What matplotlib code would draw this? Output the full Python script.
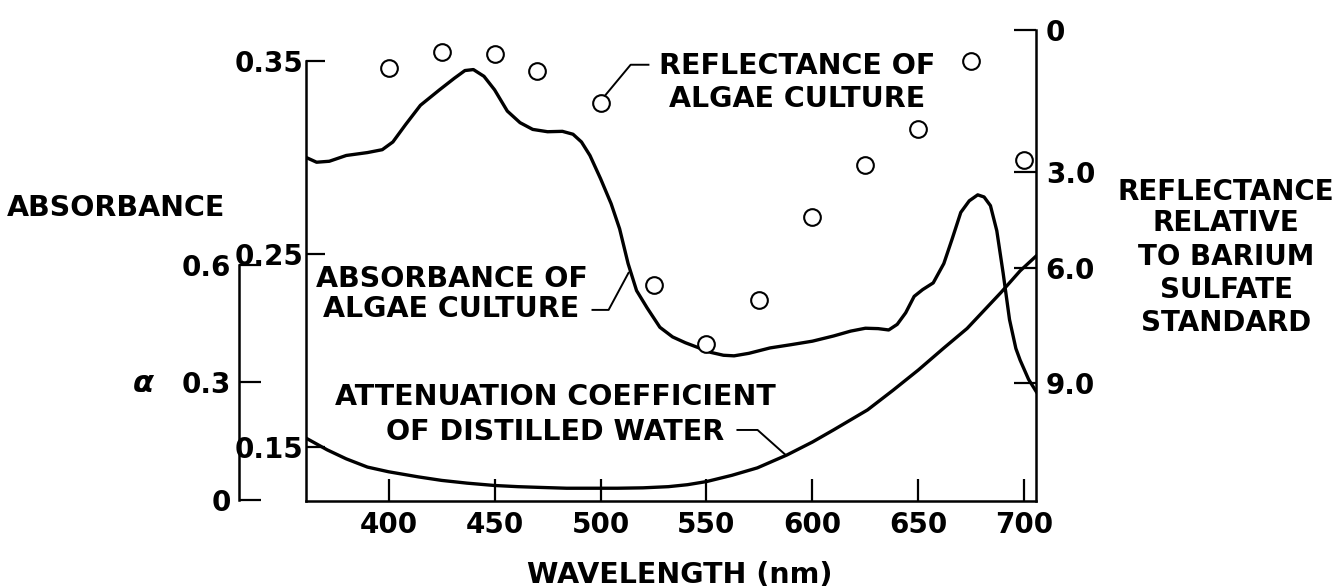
import numpy as np
import matplotlib
matplotlib.use("Agg")
import matplotlib.pyplot as plt

# ---- data -------------------------------------------------------------
absorb_nm = [361, 366, 372, 380, 390, 397, 402, 408, 415, 424, 431, 436, 440,
             445, 450, 456, 462, 468, 475, 482, 487, 491, 495, 500, 505, 509,
             513, 517, 522, 528, 534, 540, 546, 552, 558, 563, 570, 580, 590,
             600, 610, 618, 625, 631, 636, 640, 644, 648, 652, 657, 662, 666,
             670, 674, 678, 681, 684, 687, 690, 693, 696, 698, 702, 706]
absorbance = [0.300, 0.2975, 0.298, 0.301, 0.3025, 0.304, 0.308, 0.317, 0.327,
              0.335, 0.341, 0.345, 0.3455, 0.342, 0.335, 0.324, 0.318, 0.3145,
              0.3133, 0.3135, 0.312, 0.308, 0.301, 0.289, 0.276, 0.263, 0.245,
              0.231, 0.222, 0.212, 0.207, 0.204, 0.2015, 0.199, 0.1975, 0.1972,
              0.1985, 0.2013, 0.203, 0.2048, 0.2075, 0.210, 0.2115, 0.2113,
              0.2106, 0.2135, 0.2195, 0.228, 0.2315, 0.235, 0.245, 0.258,
              0.2715, 0.2775, 0.2806, 0.2795, 0.275, 0.262, 0.240, 0.216,
              0.201, 0.195, 0.185, 0.178]

water_nm = [361, 365, 371, 380, 390, 400, 414, 425, 437, 450, 461, 472, 484,
            500, 508, 520, 532, 541, 550, 562, 574, 588, 600, 610, 626, 638,
            650, 662, 673, 689, 698, 706]
water_alpha = [0.158, 0.146, 0.128, 0.105, 0.084, 0.072, 0.059, 0.050, 0.043,
               0.037, 0.034, 0.032, 0.030, 0.030, 0.030, 0.031, 0.034, 0.039,
               0.047, 0.063, 0.082, 0.115, 0.148, 0.179, 0.230, 0.280, 0.332,
               0.388, 0.438, 0.530, 0.585, 0.625]

refl_nm = [400, 425, 450, 470, 500, 525, 550, 575, 600, 625, 650, 675, 700]
reflectance = [0.80, 0.46, 0.51, 0.87, 1.54, 6.44, 7.98, 6.83, 4.41, 2.85,
               2.09, 0.65, 2.75]

wavelength_ticks = [400, 450, 500, 550, 600, 650, 700]
absorb_ticks = [0.15, 0.25, 0.35]
alpha_ticks = [0, 0.3, 0.6]
refl_ticks = [0, 3, 6, 9]
refl_tick_labels = ["0", "3.0", "6.0", "9.0"]
# ruled position of each reflectance division, as a fraction of the axis
# height measured down from the top of the right-hand scale
refl_rule = [0.0, 0.3015, 0.5053, 0.7495]

# ---- figure -------------------------------------------------------------
W, H = 1342, 588
fig = plt.figure(figsize=(W / 100, H / 100), dpi=100)
plt.rcParams["font.family"] = ["DejaVu Sans"]
plt.rcParams["font.weight"] = "bold"
FONT = dict(family="DejaVu Sans", weight="bold", size=20)
NOTE = dict(family="DejaVu Sans", weight="bold", size=20.5)

x0, x1, ytop, ybot = 306, 1036, 30, 501
ax = fig.add_axes([x0 / W, 1 - ybot / H, (x1 - x0) / W, (ybot - ytop) / H])
ax.set_xlim(361, 705.5)
ax.set_ylim(0.122, 0.366)

LW = 2.4
ax.plot(absorb_nm, absorbance, color="black", lw=LW, solid_capstyle="round")

for s in ("top", "right"):
    ax.spines[s].set_visible(False)
ax.spines["left"].set_bounds(0.122, 0.35)
ax.spines["left"].set_linewidth(1.8)
ax.spines["bottom"].set_linewidth(1.8)
ax.set_xticks(wavelength_ticks)
ax.set_xticklabels([str(t) for t in wavelength_ticks], fontdict=FONT)
ax.set_yticks(absorb_ticks)
ax.set_yticklabels([f"{t:.2f}" for t in absorb_ticks], fontdict=FONT)
ax.tick_params(axis="x", direction="in", length=16, width=1.6, pad=7)
ax.tick_params(axis="y", direction="in", length=14, width=1.6, pad=2)

# attenuation coefficient scale (alpha), offset to the left
ax2 = ax.twinx()
ax2.set_ylim(-0.0026, 1.2)
ax2.plot(water_nm, water_alpha, color="black", lw=LW)
ax2.yaxis.tick_left()
for s in ("top", "right", "bottom"):
    ax2.spines[s].set_visible(False)
ax2.spines["left"].set_position(("outward", 48))
ax2.spines["left"].set_bounds(0, 0.6)
ax2.spines["left"].set_linewidth(1.8)
ax2.set_yticks(alpha_ticks)
ax2.set_yticklabels(["0", "0.3", "0.6"], fontdict=FONT)
ax2.tick_params(axis="y", direction="in", length=16, width=1.6, pad=6)

# reflectance scale on the right, drafted with uneven divisions
slope = (refl_rule[3] - refl_rule[2]) / 3.0
r_ext = [-30.0] + refl_ticks + [60.0]
f_ext = [refl_rule[0] - 10 * (refl_rule[1] - refl_rule[0])] + refl_rule + \
        [refl_rule[3] + slope * 51.0]


def refl_fwd(r):
    return np.interp(r, r_ext, f_ext)


def refl_inv(f):
    return np.interp(f, f_ext, r_ext)


ax3 = ax.twinx()
ax3.set_yscale("function", functions=(refl_fwd, refl_inv))
r_bottom = float(refl_inv(1.0))
ax3.set_ylim(r_bottom, 0)
ax3.plot(refl_nm, reflectance, linestyle="none", marker="o", markersize=12,
         markerfacecolor="white", markeredgecolor="black", markeredgewidth=1.5)
for s in ("top", "left", "bottom"):
    ax3.spines[s].set_visible(False)
ax3.spines["right"].set_linewidth(1.8)
ax3.set_yticks(refl_ticks)
ax3.set_yticklabels(refl_tick_labels, fontdict=FONT)
ax3.yaxis.set_minor_locator(matplotlib.ticker.NullLocator())
ax3.tick_params(axis="y", direction="in", length=16, width=1.6, pad=7)

# ---- curve annotations ---------------------------------------------------
ax.text(592.7, 0.3389, "REFLECTANCE OF\nALGAE CULTURE", ha="center",
        va="center", linespacing=1.2, fontdict=NOTE)
ax.plot([522.6, 514.2, 502.4], [0.348, 0.348, 0.3324], color="black", lw=1.4)

ax.text(429.7, 0.2293, "ABSORBANCE OF\nALGAE CULTURE", ha="center",
        va="center", linespacing=1.1, fontdict=NOTE)
ax.plot([496.2, 503.8, 513.2], [0.2210, 0.2210, 0.2402], color="black", lw=1.4)

ax.text(478.8, 0.1668, "ATTENUATION COEFFICIENT\nOF DISTILLED WATER",
        ha="center", va="center", linespacing=1.3, fontdict=NOTE)
ax.plot([564.6, 574.1, 587.3], [0.1588, 0.1588, 0.1459], color="black", lw=1.4)

# ---- axis titles ---------------------------------------------------------
fig.text(680 / W, 1 - 575 / H, "WAVELENGTH (nm)", ha="center", va="center",
         fontdict=NOTE)
fig.text(116 / W, 1 - 208 / H, "ABSORBANCE", ha="center", va="center",
         fontdict=NOTE)
fig.text(143 / W, 1 - 383 / H, "α", ha="center", va="center",
         family="DejaVu Sans", weight="bold", style="italic", size=22)
right_title = ["REFLECTANCE", "RELATIVE", "TO BARIUM", "SULFATE", "STANDARD"]
right_rows = [192, 223, 257, 290, 323]
for line, row in zip(right_title, right_rows):
    fig.text(1226 / W, 1 - row / H, line, ha="center", va="center",
             fontdict=FONT)

fig.savefig("out.png", dpi=100, facecolor="white")
